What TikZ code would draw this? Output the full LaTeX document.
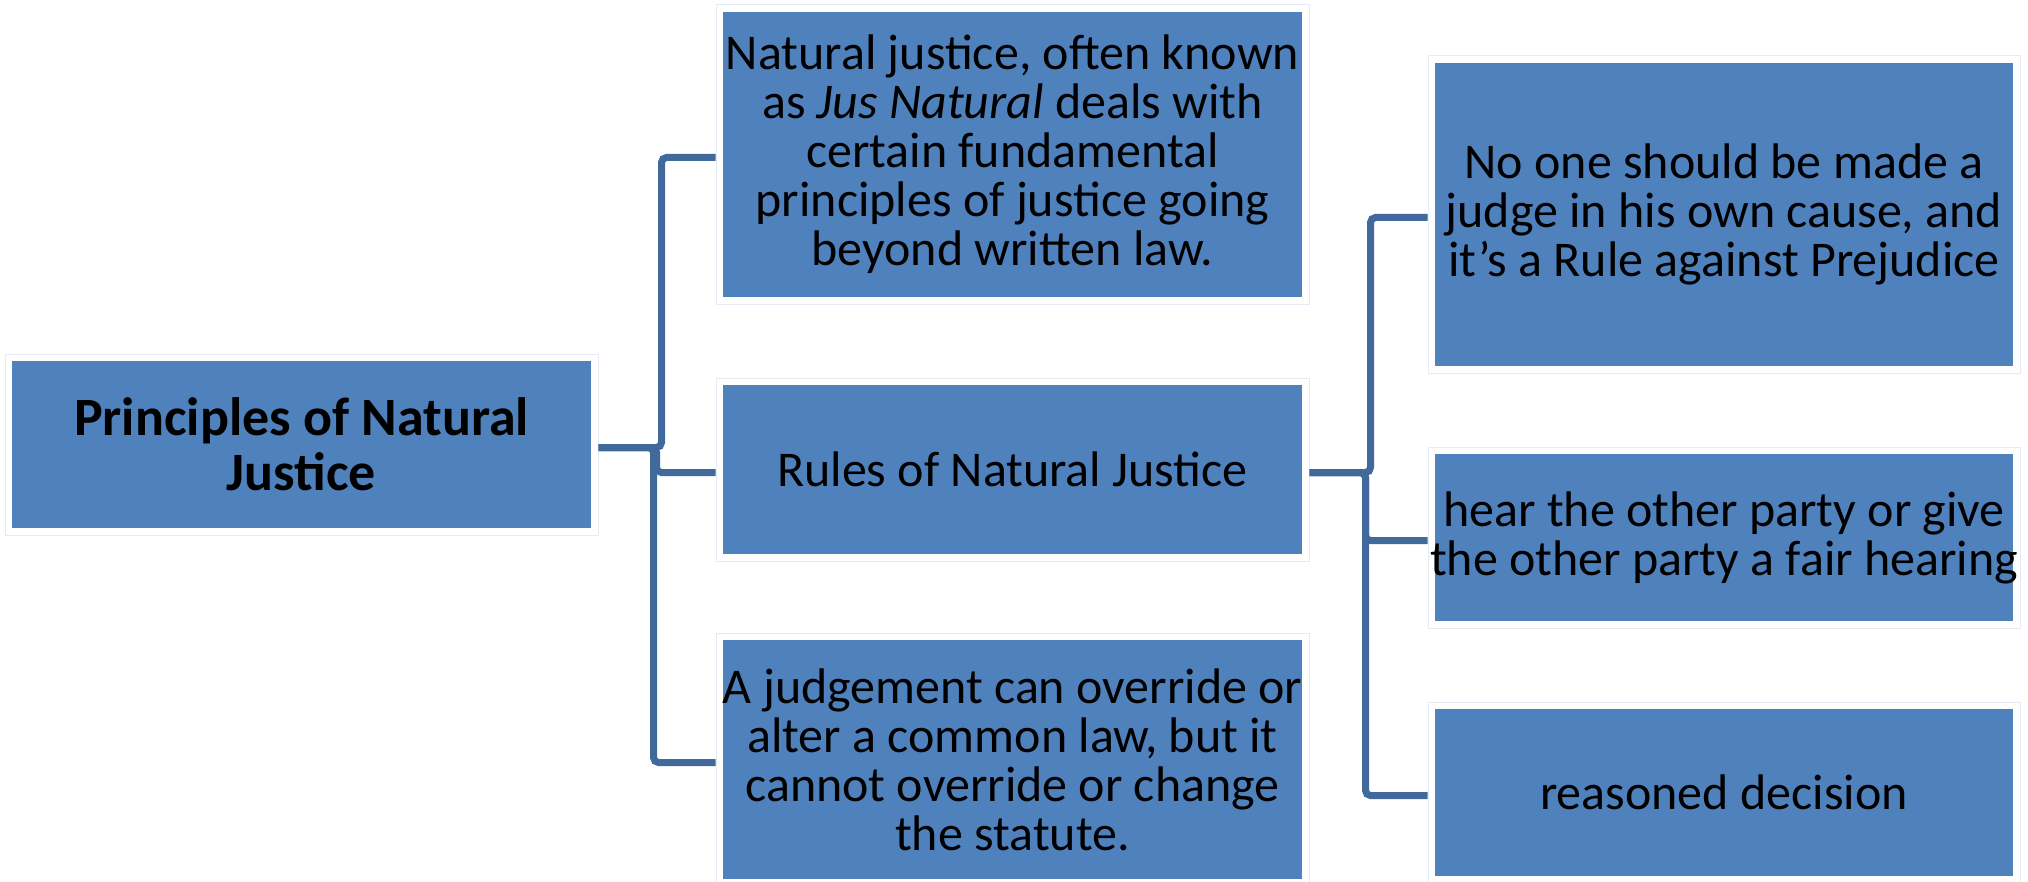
\documentclass[tikz,border=0pt]{standalone}
\usepackage{fontspec}
\setmainfont{Carlito}
\usetikzlibrary{calc}
\definecolor{boxblue}{HTML}{4F81BD}
\definecolor{linkblue}{HTML}{41699B}
\definecolor{rimblue}{HTML}{E4EBF4}
\begin{document}
\begin{tikzpicture}[x=0.5pt,y=-0.5pt,
  card/.style={draw=rimblue, line width=0.5pt, inner sep=0pt, align=center, text=black,
    font=\fontsize{25pt}{24.5pt}\selectfont,
    path picture={\fill[boxblue]
      ([shift={(3.7pt,3.7pt)}]path picture bounding box.south west) rectangle
      ([shift={(-3.7pt,-3.7pt)}]path picture bounding box.north east);}},
  link/.style={draw=linkblue, line width=3.5pt, rounded corners=2.5pt}]
\useasboundingbox (0,0) rectangle (2028,882);

% root
\node[card, minimum width=296.5pt, minimum height=90.5pt,
      font=\fontsize{27pt}{27.5pt}\selectfont\bfseries] (root) at (301.5,444.5)
  {Principles of Natural\\Justice};

% second level
\node[card, minimum width=296.5pt, minimum height=149.5pt] (n1) at (1012.5,154.5)
  {Natural justice, often known\\as \textit{Jus Natural} deals with\\certain fundamental\\principles of justice going\\beyond written law.};
\node[card, minimum width=296.5pt, minimum height=91.5pt] (n2) at (1012.5,469.5)
  {Rules of Natural Justice};
\node[card, minimum width=296.5pt, minimum height=126.5pt] (n3) at (1012.5,759.5)
  {A judgement can override or\\alter a common law, but it\\cannot override or change\\the statute.};

% third level
\node[card, minimum width=296pt, minimum height=158.5pt] (r1) at (1724,214.5)
  {No one should be made a\\judge in his own cause, and\\it’s a Rule against Prejudice};
\node[card, minimum width=296pt, minimum height=90.5pt] (r2) at (1724,537.5)
  {hear the other party or give\\the other party a fair hearing};
\node[card, minimum width=296pt, minimum height=90.5pt] (r3) at (1724,792.5)
  {reasoned decision};

% connectors (elbows sit slightly below the box mid-lines)
\draw[link] ([yshift=-1.5pt]root.east) -- ++(31.5pt,0) |- ([yshift=-1.5pt]n1.west);
\draw[link] ([yshift=-1.5pt]root.east) -- ++(29pt,0) |- ([yshift=-1.5pt]n2.west);
\draw[link] ([yshift=-1.5pt]root.east) -- ++(27.5pt,0) |- ([yshift=-1.5pt]n3.west);

\draw[link] ([yshift=-1.5pt]n2.east) -- ++(30.5pt,0) |- ([yshift=-1.5pt]r1.west);
\draw[link] ([yshift=-1.5pt]n2.east) -- ++(28pt,0) |- ([yshift=-1.5pt]r2.west);
\draw[link] ([yshift=-1.5pt]n2.east) -- ++(28pt,0) |- ([yshift=-1.5pt]r3.west);
\end{tikzpicture}
\end{document}
